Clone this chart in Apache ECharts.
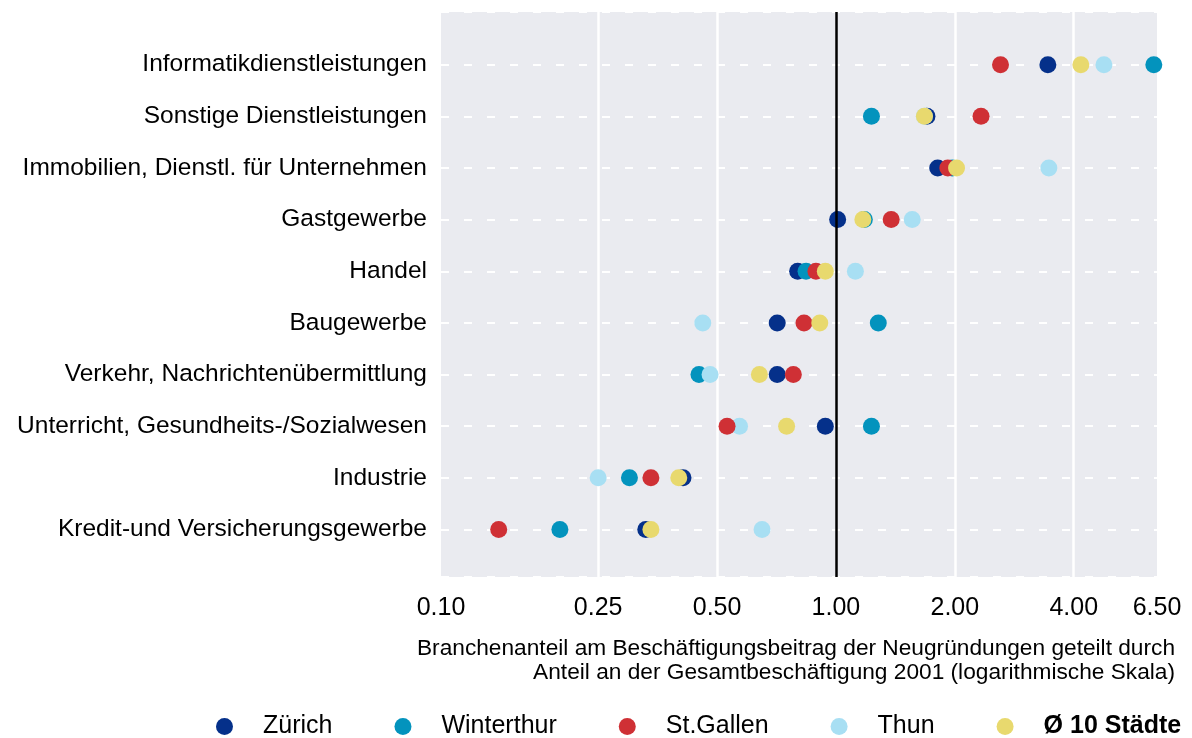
<!DOCTYPE html>
<html>
<head>
<meta charset="utf-8">
<script src="https://cdn.jsdelivr.net/npm/echarts@6/dist/echarts.min.js"></script>
<style>html,body{margin:0;padding:0;background:#fff}#chart{width:1192px;height:738px}</style>
</head>
<body>
<div id="chart"></div>
<script>
const categories = [
  'Informatikdienstleistungen',
  'Sonstige Dienstleistungen',
  'Immobilien, Dienstl. für Unternehmen',
  'Gastgewerbe',
  'Handel',
  'Baugewerbe',
  'Verkehr, Nachrichtenübermittlung',
  'Unterricht, Gesundheits-/Sozialwesen',
  'Industrie',
  'Kredit-und Versicherungsgewerbe'
];
const zuerich    = [3.44, 1.70, 1.81, 1.01, 0.80, 0.71, 0.71, 0.94, 0.41, 0.33];
const winterthur = [6.38, 1.23, 1.97, 1.18, 0.84, 1.28, 0.45, 1.23, 0.30, 0.20];
const stgallen   = [2.61, 2.33, 1.92, 1.38, 0.89, 0.83, 0.78, 0.53, 0.34, 0.14];
const thun       = [4.77, 1.675, 3.46, 1.56, 1.12, 0.46, 0.48, 0.57, 0.25, 0.65];
const avg10      = [4.17, 1.675, 2.02, 1.17, 0.94, 0.91, 0.64, 0.75, 0.40, 0.34];
const xTicks = [0.10, 0.25, 0.50, 1.00, 2.00, 4.00, 6.50];
const gridLineValues = [0.25, 0.50, 2.00, 4.00];
const referenceValue = 1.00;
const axisTitle = 'Branchenanteil am Beschäftigungsbeitrag der Neugründungen geteilt durch\nAnteil an der Gesamtbeschäftigung 2001 (logarithmische Skala)';

const yMin = -1.02, yMax = 9.92;
const catIdx = categories.map((c, i) => i);

const colors = {
  'Zürich': '#05308a',
  'Winterthur': '#0393bd',
  'St.Gallen': '#cf3035',
  'Thun': '#a8dff3',
  'Ø 10 Städte': '#e8d96e'
};
function pts(arr){ return arr.map((v,i)=>[v,i]); }
function mk(name, arr, extra){
  return Object.assign({
    name: name, type: 'scatter', symbol: 'circle', symbolSize: 17, z: 3,
    itemStyle: {color: colors[name], opacity: 1},
    emphasis: {disabled: true},
    data: pts(arr)
  }, extra || {});
}
const chart = echarts.init(document.getElementById('chart'), null, {renderer: 'canvas'});
chart.setOption({
  animation: false,
  textStyle: {fontFamily: 'Liberation Sans, Arial, sans-serif'},
  grid: {left: 441, right: 35, top: 12, bottom: 161, show: true, backgroundColor: '#eaebf0', borderWidth: 0},
  title: {
    text: axisTitle, left: 1170, top: 632, textAlign: 'right',
    textStyle: {fontSize: 22.7, fontWeight: 'normal', color: '#000', lineHeight: 24, fontFamily: 'Liberation Sans, Arial, sans-serif'}
  },
  legend: {
    left: 211, top: 709, icon: 'circle', itemWidth: 17, itemHeight: 17, itemGap: 62,
    selectedMode: false,
    textStyle: {fontSize: 25, color: '#000', padding: [0,0,0,25]},
    data: ['Zürich', 'Winterthur', 'St.Gallen', 'Thun', {name: 'Ø 10 Städte', textStyle: {fontWeight: 'bold'}}]
  },
  xAxis: {
    type: 'log', logBase: 10, min: 0.1, max: 6.5,
    axisLine: {show: false}, axisTick: {show: false}, splitLine: {show: false},
    axisLabel: {customValues: xTicks, formatter: v => Number(v).toFixed(2), fontSize: 25, color: '#000', margin: 19, showMinLabel: true, showMaxLabel: true}
  },
  yAxis: {
    type: 'value', inverse: true, min: yMin, max: yMax,
    axisLine: {show: false},
    axisTick: {show: false, customValues: [yMin].concat(catIdx, [yMax])},
    splitLine: {show: true, lineStyle: {color: '#ffffff', width: 2, type: [8, 15]}},
    axisLabel: {customValues: catIdx, formatter: v => (categories[v] !== undefined ? categories[v] : ''), fontSize: 24.5, color: '#000', margin: 14}
  },
  series: [
    mk('Zürich', zuerich, {
      markLine: {
        silent: true, symbol: ['none','none'], z: 2, label: {show: false},
        lineStyle: {color: '#ffffff', width: 2.5, type: 'solid'},
        emphasis: {disabled: true},
        data: gridLineValues.map(v => ({xAxis: v}))
      }
    }),
    mk('Winterthur', winterthur),
    mk('Thun', thun),
    mk('St.Gallen', stgallen),
    mk('Ø 10 Städte', avg10, {
      markLine: {
        silent: true, symbol: ['none','none'], z: 5, label: {show: false},
        lineStyle: {color: '#000000', width: 2.5, type: 'solid'},
        emphasis: {disabled: true},
        data: [{xAxis: referenceValue}]
      }
    })
  ]
});
</script>
</body>
</html>
